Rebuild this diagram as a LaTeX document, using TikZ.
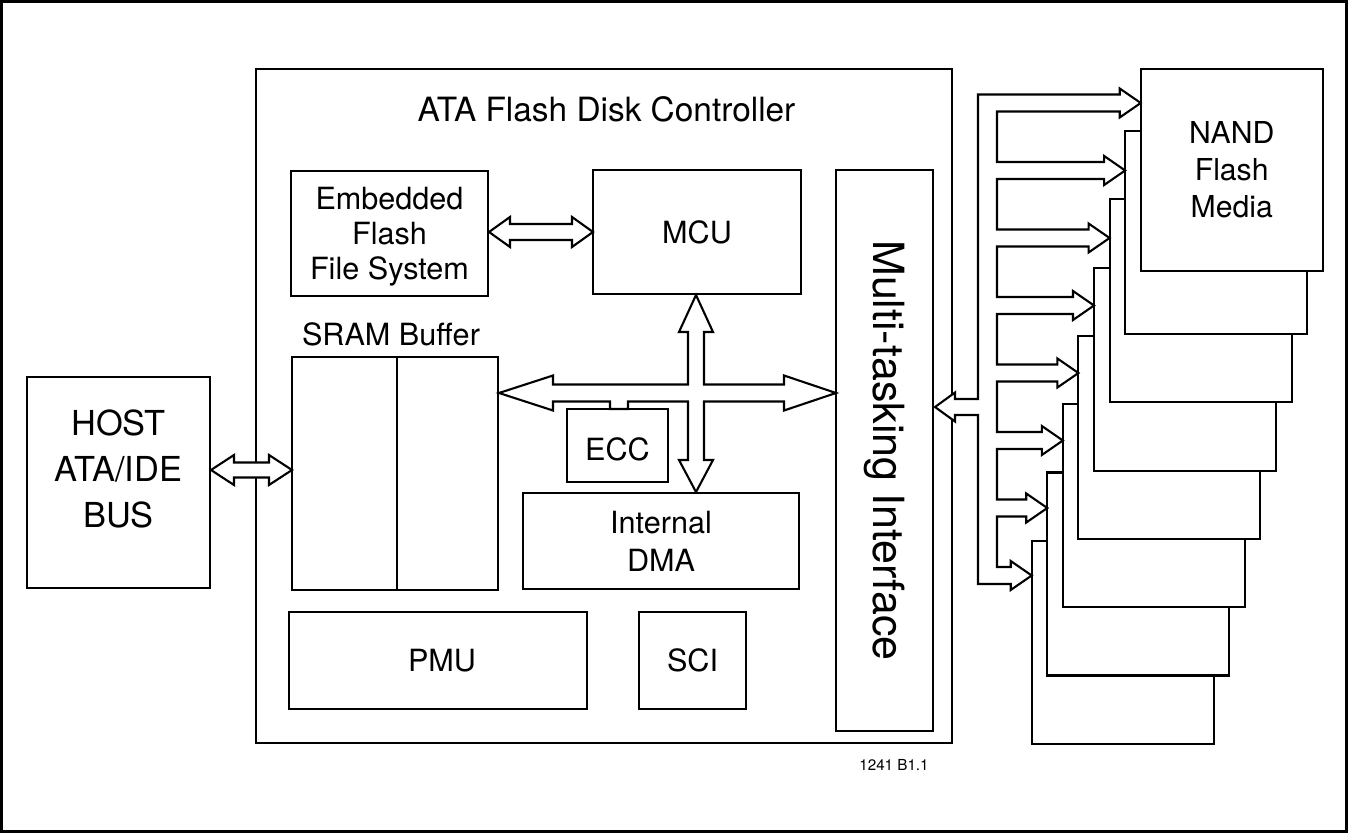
\documentclass[tikz,border=0pt]{standalone}
\usepackage{fontspec}
\setmainfont{TeX Gyre Heros}
\usetikzlibrary{fit}
\newcommand\fsN{\fontsize{15.3}{17.5}\selectfont}
\newcommand\fsD{\fontsize{15.3}{19}\selectfont}
\newcommand\fsND{\fontsize{15.1}{18.5}\selectfont}
\newcommand\fsT{\fontsize{16.7}{20}\selectfont}
\newcommand\fsH{\fontsize{17.2}{22.8}\selectfont}
\newcommand\fsM{\fontsize{21.5}{25}\selectfont}
\newcommand\fsF{\fontsize{7.6}{9}\selectfont}
\newcommand\DblArrH[6]{%
  \draw[fill=white] (#1,#3) -- ({#1+#6},{#3-#5}) -- ({#1+#6},{#3-#4})
    -- ({#2-#6},{#3-#4}) -- ({#2-#6},{#3-#5}) -- (#2,#3)
    -- ({#2-#6},{#3+#5}) -- ({#2-#6},{#3+#4}) -- ({#1+#6},{#3+#4})
    -- ({#1+#6},{#3+#5}) -- cycle;}
\begin{document}
\begin{tikzpicture}[x=0.5pt,y=-0.5pt,line width=1.05pt,
  box/.style={draw, fill=white, inner sep=0pt, fit={#1}},
  txt/.style={font=\fsN, align=center, inner sep=0pt}]
\useasboundingbox (0,0) rectangle (1348,833);
\node[box={(1.5,1.5) (1346.5,831.5)}] (frame) {};
% controller
\node[box={(256,69) (952,743)}] (ctrl) {};
\node[txt, font=\fsT] (title) at (606.5,109) {ATA Flash Disk Controller};
\node[box={(291,171) (488,296)}] (effs) {};
\node[txt] at ([yshift=-1.5pt]effs.center) {Embedded\\Flash\\File System};
\node[box={(593,170) (801,294)}] (mcu) {};
\node[txt] at (mcu.center) {MCU};
\node[box={(836,170) (933,731)}] (mti) {};
\node[txt, font=\fsM, rotate=-90] (mtitext) at (mti.center) {Multi-tasking Interface};
\node[txt] (sramlbl) at (391,334) {SRAM Buffer};
\node[box={(292,357) (498,590)}] (sram) {};
\draw (397,357) -- (397,590);
\node[box={(567,409) (668,482)}] (ecc) {};
\node[txt] at ([yshift=-2pt]ecc.center) {ECC};
\node[box={(523,493) (799,589)}] (dma) {};
\node[txt, font=\fsD] at (dma.center) {Internal\\DMA};
\node[box={(289,612) (587,709)}] (pmu) {};
\node[txt] at ([xshift=2pt]pmu.center) {PMU};
\node[box={(639,612) (746,709)}] (sci) {};
\node[txt] at (sci.center) {SCI};
% host
\node[box={(27,377) (210,588)}] (host) {};
\node[txt, font=\fsH] (hosttext) at (118.5,469) {HOST\\ATA/IDE\\BUS};
\node[txt, font=\fsF] (fig) at (894,765) {1241 B1.1};
% NAND stack
\foreach \i in {7,6,...,1} {
  \node[box={({1140.7-15.57*\i},{131+68.3*(\i-1)}) ({1322.7-15.57*\i},{334+68.3*(\i-1)})}] (nand\i) {};
}
\node[box={(1140.7,69) (1322.7,271)}] (nand0) {};
\node[txt, font=\fsND] at (nand0.center) {NAND\\Flash\\Media};
% simple double arrows
\DblArrH{489}{593}{232}{8}{15}{21}
\DblArrH{211}{292}{470}{7.5}{15}{23}
% internal bus
\draw[fill=white] (499,393) -- (553,375.5) -- (553,384.5) -- (688,384.5) -- (688,332)
  -- (679,332) -- (696,295) -- (713,332) -- (704,332) -- (704,384.5) -- (784,384.5)
  -- (784,375.5) -- (836,393) -- (784,410.5) -- (784,401.5) -- (704,401.5) -- (704,460)
  -- (713,460) -- (696,492) -- (679,460) -- (688,460) -- (688,401.5) -- (628,401.5)
  -- (628,409) -- (610,409) -- (610,401.5) -- (553,401.5) -- (553,410.5) -- cycle;
% flash bus
\draw[fill=white] (978,94.5)
  \foreach \i in {0,...,6} {
    -- ({1140.7-15.57*\i-21},{103+67.5*\i-8.5})
    -- ({1140.7-15.57*\i-21},{103+67.5*\i-14.5})
    -- ({1140.7-15.57*\i},{103+67.5*\i})
    -- ({1140.7-15.57*\i-21},{103+67.5*\i+14.5})
    -- ({1140.7-15.57*\i-21},{103+67.5*\i+8.5})
    -- (997,{103+67.5*\i+8.5})
    -- (997,{103+67.5*(\i+1)-8.5})
  }
  -- (1010.7,567) -- (1010.7,561) -- (1031.7,575.5) -- (1010.7,590) -- (1010.7,584)
  -- (978,584) -- (978,415) -- (955,415) -- (955,421.5) -- (935,407) -- (955,392.5)
  -- (955,399) -- (978,399) -- cycle;
\end{tikzpicture}
\end{document}
